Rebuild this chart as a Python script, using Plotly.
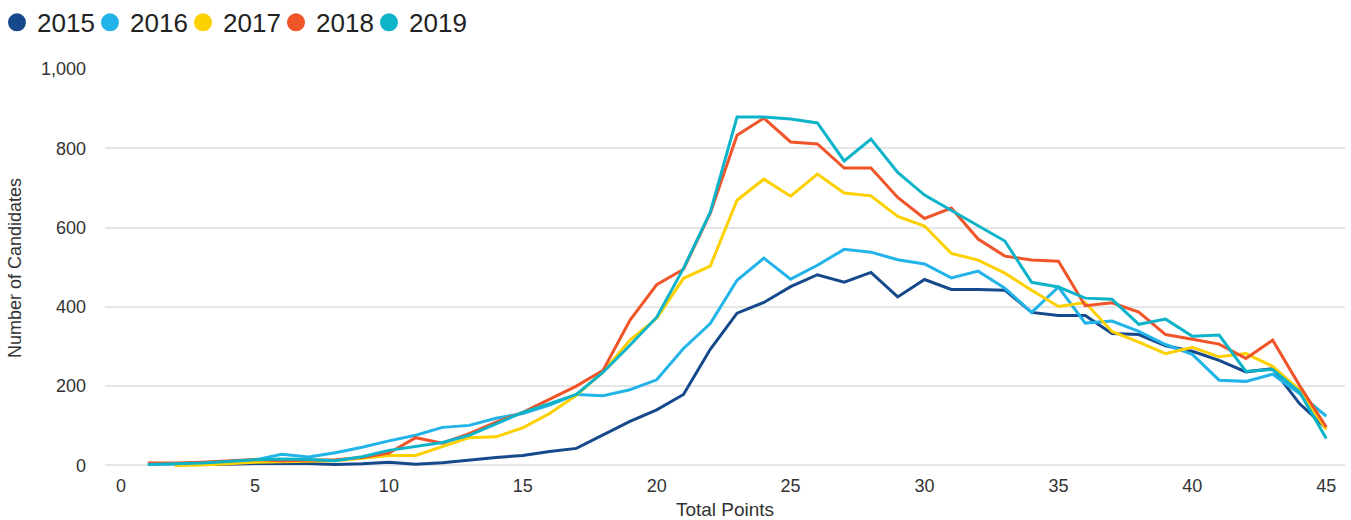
import plotly.graph_objects as go

points = list(range(1, 46))

y2015 = [None, 2, 2, 3, 5, 5, 5, 2, 4, 8, 3, 7, 14, 20, 25, 35, 43, 76, 111, 140,
         179, 293, 384, 411, 451, 481, 462, 487, 425, 469, 444, 444, 442, 386, 378,
         378, 333, 330, 302, 288, 265, 236, 244, 156, 94]
y2016 = [3, 4, 5, 10, 14, 28, 21, 32, 46, 62, 76, 96, 101, 119, 131, 152, 179, 176,
         191, 216, 295, 358, 467, 523, 470, 505, 545, 538, 519, 508, 473, 490, 447,
         386, 450, 359, 364, 338, 305, 280, 215, 212, 230, 181, 124]
y2017 = [None, 0, 1, 4, 8, 9, 10, 12, 18, 25, 25, 48, 70, 72, 95, 131, 177, 236,
         316, 371, 472, 503, 669, 722, 679, 735, 687, 680, 628, 604, 535, 518, 485,
         442, 401, 411, 338, 311, 282, 298, 274, 282, 250, 190, 91]
y2018 = [6, 6, 8, 12, 15, 12, 13, 14, 20, 31, 70, 56, 80, 109, 134, 168, 200, 240,
         366, 456, 495, 636, 833, 876, 816, 811, 750, 750, 676, 623, 649, 571, 528,
         518, 515, 403, 410, 387, 330, 318, 306, 270, 316, 202, 97]
y2019 = [2, 4, 6, 10, 14, 16, 15, 12, 22, 38, 48, 58, 76, 106, 134, 156, 179, 235,
         303, 374, 497, 639, 879, 879, 874, 864, 768, 823, 739, 682, 644, 604, 566,
         462, 450, 422, 419, 356, 369, 326, 329, 237, 242, 185, 68]

years = ["2015", "2016", "2017", "2018", "2019"]
series = [y2015, y2016, y2017, y2018, y2019]
colors = ["#16498b", "#22b4e8", "#fdd000", "#f05429", "#0db3c8"]

x_ticks = list(range(0, 50, 5))
y_ticks = [0, 200, 400, 600, 800, 1000]
y_ticktext = ["0", "200", "400", "600", "800", "1,000"]

font_family = "Liberation Sans, Arial, sans-serif"

fig = go.Figure()
for name, vals, col in zip(years, series, colors):
    fig.add_trace(go.Scatter(
        x=points, y=vals, mode="lines", name=name,
        line=dict(color=col, width=3), showlegend=False,
        hoverinfo="x+y+name",
    ))
for name, col in zip(years, colors):
    fig.add_trace(go.Scatter(
        x=[None], y=[None], mode="markers", name=name,
        marker=dict(color=col, size=16, symbol="circle",
                    line=dict(color=col, width=2)),
        showlegend=True,
    ))
# blank trailing legend slot so the last entry's text is not clipped
fig.add_trace(go.Scatter(
    x=[None], y=[None], mode="markers", name=" ",
    marker=dict(color="rgba(0,0,0,0)", size=1), showlegend=True, hoverinfo="skip",
))

fig.update_layout(
    width=1351, height=520,
    margin=dict(l=105, r=6, t=69, b=53, autoexpand=False),
    paper_bgcolor="white", plot_bgcolor="white",
    font=dict(family=font_family, color="#333333", size=18),
    legend=dict(
        orientation="h", x=-0.0871, xanchor="left", y=1.176, yanchor="top",
        font=dict(size=26, color="#222222", family=font_family),
        itemsizing="trace", entrywidth=48, entrywidthmode="pixels",
        tracegroupgap=0, bgcolor="rgba(0,0,0,0)",
    ),
    xaxis=dict(
        range=[-0.6, 45.7], tickvals=x_ticks, ticktext=[str(t) for t in x_ticks],
        showgrid=False, zeroline=False, showline=False, ticks="",
        automargin=False, ticklabelstandoff=6,
        tickfont=dict(size=18, color="#333333"),
        title=dict(text="Total Points", font=dict(size=19, color="#333333"), standoff=8),
    ),
    yaxis=dict(
        range=[-4, 1000], tickvals=y_ticks, ticktext=y_ticktext,
        showgrid=True, gridcolor="#e6e6e6", gridwidth=1.5,
        zeroline=False, showline=False, ticks="",
        automargin=False, ticklabelstandoff=18,
        tickfont=dict(size=18, color="#333333"),
        title=dict(text="Number of Candidates", font=dict(size=18, color="#333333"), standoff=14),
    ),
)

fig.write_html(
    "out.html",
    config={"displayModeBar": False},
    post_script="document.body.style.margin='0';document.body.style.overflow='hidden';",
)
